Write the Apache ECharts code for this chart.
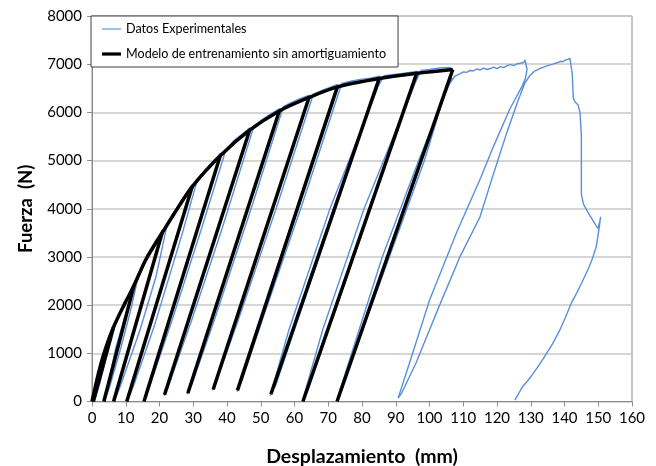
<!DOCTYPE html>
<html>
<head>
<meta charset="utf-8">
<script src="https://cdn.jsdelivr.net/npm/echarts@6/dist/echarts.min.js"></script>
<style>
html,body{margin:0;padding:0;background:#fff;}
#chart{width:656px;height:466px;}
</style>
</head>
<body>
<div id="chart"></div>
<script>
// ---- Data ----
const xTicks = [0,10,20,30,40,50,60,70,80,90,100,110,120,130,140,150,160];
const yTicks = [0,1000,2000,3000,4000,5000,6000,7000,8000];

const legendNames = ['Datos Experimentales', 'Modelo de entrenamiento sin amortiguamiento'];

// Model envelope (mm, N)
const modelEnvDisp  = [0, 1, 2, 3.2, 4.7, 6.3, 8, 9.5, 12.5, 16, 20.8, 24, 29.7, 38, 46.7, 55.5, 64.3, 72.7, 85.1, 96.2, 106.9];
const modelEnvForce = [0, 310, 610, 920, 1240, 1530, 1790, 2000, 2420, 2950, 3500, 3860, 4460, 5100, 5630, 6030, 6310, 6530, 6705, 6810, 6890];

// Model unloading lines: top point on envelope -> base point
const modelTopDisp   = [6.3, 12.5, 20.8, 29.7, 38, 46.7, 55.5, 64.3, 72.7, 85.1, 96.2, 106.9];
const modelTopForce  = [1530, 2420, 3500, 4460, 5100, 5630, 6030, 6310, 6530, 6705, 6810, 6890];
const modelBaseDisp  = [0.4, 3.5, 6.4, 10.3, 15.4, 21.5, 28.4, 35.9, 43.1, 53.0, 62.5, 72.6];
const modelBaseForce = [0, 0, 0, 0, 0, 140, 170, 250, 230, 150, 0, 0];

// Experimental data (continuous path)
const expDisp = [
  0, 1, 2, 3.2, 5, 6.3,
  4.5, 2.5, 0.6,
  2.2, 4.2, 6, 7.2,
  9.5, 11, 12.6,
  10.1, 7, 3.7,
  5.2, 8.5, 11.3, 13.4,
  15, 16.2, 18.5, 20.9,
  17.2, 12.6, 6.5,
  8.3, 14.3, 19, 22.2,
  24, 26.5, 29.8,
  25.1, 16.8, 10.4,
  12.2, 18.6, 26.8, 31.2,
  33.5, 36, 38.1,
  30.9, 22, 15.5,
  17, 23.8, 32.5, 39.6,
  42, 44.5, 46.8,
  36.9, 27.7, 21.4,
  22.8, 29.6, 38.6, 48,
  50.5, 53, 55.6,
  46.1, 34.6, 28.2,
  29.8, 36.3, 47.6, 56.7,
  59, 61.5, 64.4,
  53.5, 41.8, 35.7,
  37, 43.4, 55, 65.6,
  68, 70.5, 72.8,
  60.8, 49.1, 43,
  44.5, 50.5, 62.3, 74,
  77, 80, 82.5, 85.2,
  84.6, 70.5, 58.4, 52.8,
  54.5, 60, 72.2, 83, 86.5,
  89, 92, 96.3,
  95.7, 80.6, 68.4, 62.3,
  64, 70.2, 82.5, 94, 97.5,
  100, 103, 106.2,
  106.5, 96.8, 86, 72.4,
  74, 85.5, 98.5, 105, 107.5, 109,
  110, 111, 112, 113, 114, 115, 116, 117, 118, 119, 120, 121, 122, 123, 124, 125, 126, 126.5, 127, 127.5, 128, 128.3, 128.7,
  128.9, 128.4, 127.5, 123.8, 119, 115.2, 108, 100, 95, 90.7,
  91.7, 96, 103, 109, 114.9, 118.8, 123, 126, 128.2, 129.7, 131, 132, 132.6, 133.5, 134.5, 135.5, 136.6, 137.3, 138, 138.8, 139.5, 140.3, 141, 141.3, 141.6, 142,
  142.3, 142.6, 143.2, 144, 144.6, 145, 145, 145, 145.6, 146.9, 148.4, 149.9, 150.5, 150.7,
  150.1, 149.4, 148.2, 146.9, 145, 143.6, 142, 140.3, 138.6, 136.5, 134.1, 132.5, 130.7, 129, 127.5, 125.3
];
const expForce = [
  0, 330, 650, 970, 1300, 1560,
  1100, 550, 0,
  350, 900, 1350, 1680,
  2060, 2230, 2460,
  1850, 1100, 0,
  300, 1100, 1850, 2500,
  2780, 3020, 3300, 3560,
  2600, 1500, 0,
  300, 1500, 2600, 3650,
  3900, 4180, 4510,
  3400, 1500, 0,
  300, 1600, 3500, 4600,
  4800, 4990, 5150,
  3500, 1500, 20,
  300, 1700, 3600, 5210,
  5410, 5550, 5680,
  3500, 1500, 120,
  350, 1700, 3600, 5720,
  5850, 5970, 6080,
  4000, 1500, 150,
  400, 1700, 4100, 6120,
  6200, 6280, 6360,
  4000, 1500, 230,
  450, 1700, 4100, 6380,
  6450, 6520, 6580,
  4000, 1500, 210,
  450, 1700, 4100, 6600,
  6650, 6690, 6710, 6750,
  6500, 4000, 1500, 120,
  350, 1500, 4000, 6300, 6760,
  6780, 6810, 6850,
  6600, 4000, 1500, 0,
  250, 1500, 4000, 6350, 6870,
  6890, 6920, 6930,
  6700, 5000, 3000, 0,
  300, 2500, 5000, 6500, 6750, 6800,
  6840, 6830, 6870, 6860, 6900, 6880, 6920, 6890, 6910, 6940, 6910, 6950, 6930, 6970, 6990, 6970, 7010, 7040, 7020, 7060, 7040, 7090, 7070,
  6900, 6700, 6550, 6070, 5300, 4650, 3500, 2100, 1000, 70,
  170, 800, 2000, 3000, 3820, 4690, 5600, 6200, 6600, 6760, 6850, 6880, 6910, 6930, 6960, 6980, 7000, 7020, 7030, 7060, 7050, 7090, 7100, 7140, 7120, 7140,
  6800, 6300, 6210, 6160, 6000, 5500, 4700, 4300, 4100, 3930, 3760, 3590, 3750, 3830,
  3520, 3210, 2950, 2730, 2450, 2250, 2040, 1750, 1480, 1200, 930, 760, 580, 420, 300, 30
];

// ---- Build chart ----
const BLUE = '#5B8FD9';
const pairs = (xs, ys) => xs.map((x, i) => [x, ys[i]]);

const series = [];
series.push({
  name: legendNames[0], type: 'line', showSymbol: false, symbol: 'none',
  data: pairs(expDisp, expForce),
  lineStyle: { color: BLUE, width: 1.4 }, itemStyle: { color: BLUE },
  z: 2, animation: false
});
series.push({
  name: legendNames[1], type: 'line', showSymbol: false, symbol: 'none', smooth: 0.3,
  data: pairs(modelEnvDisp, modelEnvForce),
  lineStyle: { color: '#000', width: 3.5 }, itemStyle: { color: '#000' },
  z: 3, animation: false
});
for (let i = 0; i < modelTopDisp.length; i++) {
  series.push({
    name: legendNames[1], type: 'line', showSymbol: false, symbol: 'none',
    data: [[modelTopDisp[i], modelTopForce[i]], [modelBaseDisp[i], modelBaseForce[i]]],
    lineStyle: { color: '#000', width: 3.5 }, itemStyle: { color: '#000' },
    z: 3, animation: false
  });
}

const chart = echarts.init(document.getElementById('chart'), null, { renderer: 'canvas' });
chart.setOption({
  animation: false,
  backgroundColor: '#fff',
  textStyle: { fontFamily: 'Lato' },
  grid: { left: 92, right: 24, top: 16, bottom: 64.5, containLabel: false, outerBoundsMode: 'none',
          show: true, borderColor: '#8c8c8c', borderWidth: 1 },
  legend: {
    left: 91, top: 16,
    orient: 'vertical',
    backgroundColor: '#fff',
    borderColor: '#404040', borderWidth: 1,
    padding: [6.5, 12, 6.5, 11],
    itemWidth: 19, itemHeight: 14, itemGap: 12,
    textStyle: { fontFamily: 'Lato', fontSize: 12.6, color: '#000' },
    data: [
      { name: legendNames[0], icon: 'path://M0,0L20,0L20,1.2L0,1.2Z', itemStyle: { color: BLUE } },
      { name: legendNames[1], icon: 'path://M0,0L20,0L20,3.4L0,3.4Z', itemStyle: { color: '#000' } }
    ]
  },
  xAxis: {
    type: 'value', min: xTicks[0], max: xTicks[xTicks.length - 1], interval: 10,
    name: 'Desplazamiento  (mm)', nameLocation: 'middle', nameGap: 45,
    nameTextStyle: { fontFamily: 'Lato', fontSize: 19.5, fontWeight: 'bold', color: '#000' },
    axisLine: { show: true, lineStyle: { color: '#8c8c8c', width: 1 } },
    axisTick: { show: true, length: 5, lineStyle: { color: '#8c8c8c' } },
    axisLabel: { fontFamily: 'Lato', fontSize: 15, color: '#000', margin: 9, formatter: v => String(v) },
    splitLine: { show: false }
  },
  yAxis: {
    type: 'value', min: yTicks[0], max: yTicks[yTicks.length - 1], interval: 1000,
    name: 'Fuerza  (N)', nameLocation: 'middle', nameGap: 56, nameRotate: 90,
    nameTextStyle: { fontFamily: 'Lato', fontSize: 18.5, fontWeight: 'bold', color: '#000' },
    axisLine: { show: true, lineStyle: { color: '#8c8c8c', width: 1 } },
    axisTick: { show: true, length: 5, lineStyle: { color: '#8c8c8c' } },
    axisLabel: { fontFamily: 'Lato', fontSize: 15, color: '#000', margin: 10, formatter: v => String(v) },
    splitLine: { show: true, lineStyle: { color: '#c8c8c8', width: 1.5 } }
  },
  series: series
});
</script>
</body>
</html>
